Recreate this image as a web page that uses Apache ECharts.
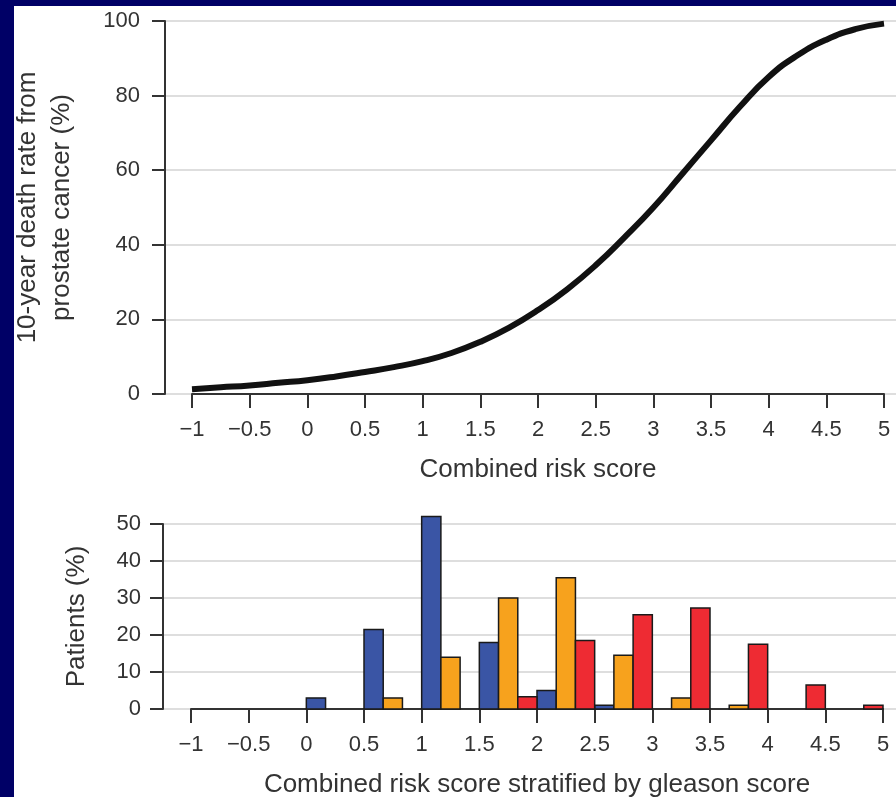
<!DOCTYPE html>
<html>
<head>
<meta charset="utf-8">
<script src="https://cdn.jsdelivr.net/npm/echarts@6/dist/echarts.min.js"></script>
<style>
  html, body { margin: 0; padding: 0; background: #000066; }
  #chart { width: 896px; height: 797px; }
</style>
</head>
<body>
<div id="chart"></div>
<script>
// top panel: risk curve
const curveX = [-1, -0.75, -0.5, -0.25, 0, 0.25, 0.5, 0.75, 1, 1.25, 1.5, 1.75, 2, 2.25, 2.5, 2.75, 3, 3.25, 3.5, 3.75, 4, 4.25, 4.5, 4.75, 5];
const curveY = [1.3, 1.8, 2.3, 3.0, 3.7, 4.7, 5.9, 7.2, 8.8, 11, 14, 17.8, 22.5, 28, 34.5, 42, 50, 59, 68, 77, 85, 90.8, 95, 97.8, 99.3];

// bottom panel: patients by bin, one array per gleason group
const binStart = [0, 0.5, 1, 1.5, 2, 2.5, 3, 3.5, 4, 4.5];
const blueVals = [3, 21.5, 52, 18, 5, 1, 0, 0, 0, 0];
const orangeVals = [0, 3, 14, 30, 35.5, 14.5, 3, 1, 0, 0];
const redVals = [0, 0, 0, 3.3, 18.5, 25.5, 27.3, 17.5, 6.5, 1];
const groupColors = ['#3a55a5', '#f7a21d', '#ee2b33'];

const font = 'Liberation Sans';
const txt = '#333';
const axisCol = '#333';

const chart = echarts.init(document.getElementById('chart'), null, { renderer: 'canvas' });

function minus(v) {
  return String(v).replace('-', '\u2212');
}

function barSeries(vals, g) {
  const data = binStart.map((b, i) => [b, vals[i]]);
  return {
    type: 'custom',
    xAxisIndex: 3,
    yAxisIndex: 3,
    data: data,
    renderItem: function (params, api) {
      const b = api.value(0);
      const v = api.value(1);
      if (!v) return null;
      const p0 = api.coord([b + g / 6, v]);
      const p1 = api.coord([b + (g + 1) / 6, 0]);
      return {
        type: 'rect',
        shape: { x: p0[0], y: p0[1], width: p1[0] - p0[0], height: p1[1] - p0[1] },
        style: { fill: groupColors[g], stroke: '#1a1a1a', lineWidth: 1.5 }
      };
    }
  };
}

const yTick = { show: true, length: 13, lineStyle: { color: axisCol, width: 2 } };
const xTick = { show: true, length: 14, lineStyle: { color: axisCol, width: 2 } };
const split = { show: true, lineStyle: { color: '#dedede', width: 2 } };
const tickLabel = { color: txt, fontSize: 22, fontFamily: font };
const nameStyle = { color: txt, fontSize: 26, fontFamily: font, lineHeight: 34 };

const option = {
  backgroundColor: '#fff',
  animation: false,
  graphic: [
    { type: 'rect', left: 0, top: 0, shape: { width: 14, height: 797 }, style: { fill: '#000066' } },
    { type: 'rect', left: 0, top: 0, shape: { width: 896, height: 6 }, style: { fill: '#000066' } }
  ],
  grid: [
    { left: 165, right: 0, top: 21, bottom: 403, outerBoundsMode: 'none' },
    { left: 192, right: 12, top: 21, bottom: 403, outerBoundsMode: 'none' },
    { left: 163, right: 0, top: 524, bottom: 88, outerBoundsMode: 'none' },
    { left: 191, right: 13, top: 524, bottom: 88, outerBoundsMode: 'none' }
  ],
  xAxis: [
    { gridIndex: 0, type: 'value', min: 0, max: 1, show: false },
    {
      gridIndex: 1, type: 'value', min: -1, max: 5, interval: 0.5,
      name: 'Combined risk score', nameLocation: 'middle', nameGap: 59, nameTextStyle: nameStyle,
      axisLine: { show: true, lineStyle: { color: axisCol, width: 2 } },
      axisTick: xTick, splitLine: { show: false },
      axisLabel: Object.assign({ margin: 25, formatter: minus }, tickLabel)
    },
    { gridIndex: 2, type: 'value', min: 0, max: 1, show: false },
    {
      gridIndex: 3, type: 'value', min: -1, max: 5, interval: 0.5,
      name: 'Combined risk score stratified by gleason score', nameLocation: 'middle', nameGap: 59, nameTextStyle: nameStyle,
      axisLine: { show: true, lineStyle: { color: axisCol, width: 2 } },
      axisTick: xTick, splitLine: { show: false },
      axisLabel: Object.assign({ margin: 25, formatter: minus }, tickLabel)
    }
  ],
  yAxis: [
    {
      gridIndex: 0, type: 'value', min: 0, max: 100, interval: 20,
      name: '10-year death rate from\nprostate cancer (%)', nameLocation: 'middle', nameGap: 86, nameTextStyle: nameStyle,
      axisLine: { show: true, lineStyle: { color: axisCol, width: 2 } },
      axisTick: yTick, splitLine: split,
      axisLabel: Object.assign({ margin: 25 }, tickLabel)
    },
    { gridIndex: 1, type: 'value', min: 0, max: 100, show: false },
    {
      gridIndex: 2, type: 'value', min: 0, max: 50, interval: 10,
      name: 'Patients (%)', nameLocation: 'middle', nameGap: 69, nameTextStyle: nameStyle,
      axisLine: { show: true, lineStyle: { color: axisCol, width: 2 } },
      axisTick: yTick, splitLine: split,
      axisLabel: Object.assign({ margin: 22 }, tickLabel)
    },
    { gridIndex: 3, type: 'value', min: 0, max: 50, show: false }
  ],
  series: [
    {
      type: 'line',
      xAxisIndex: 1,
      yAxisIndex: 1,
      data: curveX.map((x, i) => [x, curveY[i]]),
      smooth: 0.5,
      symbol: 'none',
      lineStyle: { color: '#111', width: 6 }
    },
    barSeries(blueVals, 0),
    barSeries(orangeVals, 1),
    barSeries(redVals, 2)
  ]
};

chart.setOption(option);
</script>
</body>
</html>
